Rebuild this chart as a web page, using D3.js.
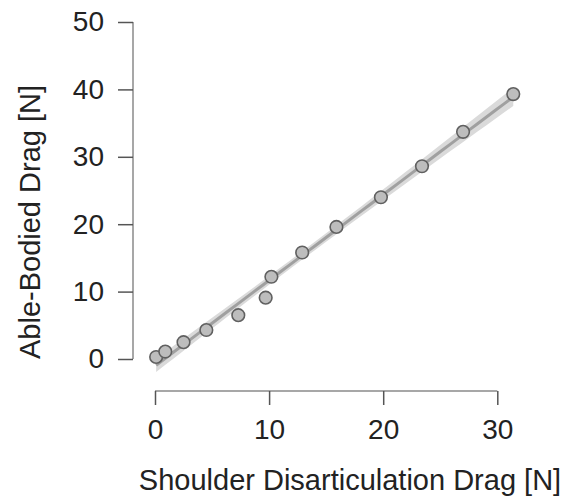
<!DOCTYPE html>
<html>
<head>
<meta charset="utf-8">
<script src="https://cdn.jsdelivr.net/npm/d3@7"></script>
<style>
  body { margin: 0; background: #fff; }
  text { font-family: "Liberation Sans", Arial, sans-serif; }
</style>
</head>
<body>
<svg id="chart" width="570" height="500"></svg>
<script>
// data
var sdDrag = [0.1, 0.9, 2.5, 4.5, 7.3, 9.7, 10.2, 12.9, 15.9, 19.8, 23.4, 27.0, 31.4];
var abDrag = [0.3, 1.1, 2.5, 4.3, 6.5, 9.1, 12.2, 15.8, 19.6, 24.0, 28.6, 33.7, 39.3];
var xTicks = [0, 10, 20, 30];
var yTicks = [0, 10, 20, 30, 40, 50];

var points = sdDrag.map(function (d, i) { return {x: d, y: abDrag[i]}; });

var svg = d3.select("#chart");

var x = d3.scaleLinear().domain([0, 30]).range([155, 497.3]);
var y = d3.scaleLinear().domain([0, 50]).range([359, 22]);

// least squares fit + confidence band
var n = points.length;
var mx = d3.mean(sdDrag), my = d3.mean(abDrag);
var sxx = d3.sum(sdDrag, function (d) { return (d - mx) * (d - mx); });
var sxy = d3.sum(points, function (d) { return (d.x - mx) * (d.y - my); });
var slope = sxy / sxx, icpt = my - slope * mx;
var sse = d3.sum(points, function (d) { var r = d.y - (icpt + slope * d.x); return r * r; });
var se = Math.sqrt(sse / (n - 2));
var tval = 2.201;

var xs = d3.range(0, 41).map(function (i) {
    var lo = d3.min(sdDrag), hi = d3.max(sdDrag);
    return lo + (hi - lo) * i / 40;
});
var band = xs.map(function (v) {
    var fit = icpt + slope * v;
    var w = tval * se * Math.sqrt(1 / n + (v - mx) * (v - mx) / sxx);
    return {x: v, lo: fit - w, hi: fit + w, fit: fit};
});

svg.append("path")
    .datum(band)
    .attr("fill", "#dadada")
    .attr("d", d3.area()
        .x(function (d) { return x(d.x); })
        .y0(function (d) { return y(d.lo); })
        .y1(function (d) { return y(d.hi); }));

svg.append("path")
    .datum(band)
    .attr("fill", "none")
    .attr("stroke", "#a0a0a0")
    .attr("stroke-width", 3)
    .attr("d", d3.line()
        .x(function (d) { return x(d.x); })
        .y(function (d) { return y(d.fit); }));

svg.selectAll(".pt")
    .data(points)
    .enter().append("circle")
    .attr("class", "pt")
    .attr("cx", function (d) { return x(d.x); })
    .attr("cy", function (d) { return y(d.y); })
    .attr("r", 6.3)
    .attr("fill", "#bdbdbd")
    .attr("stroke", "#606060")
    .attr("stroke-width", 1.6);

// axes
var xAxis = svg.append("g")
    .attr("transform", "translate(0,391)")
    .call(d3.axisBottom(x).tickValues(xTicks).tickSize(14).tickPadding(14));

var yAxis = svg.append("g")
    .attr("transform", "translate(133,0)")
    .call(d3.axisLeft(y).tickValues(yTicks).tickSize(15).tickPadding(14));

[xAxis, yAxis].forEach(function (g) {
    g.select(".domain").attr("stroke", "#8a8a8a").attr("stroke-width", 1.5);
    g.selectAll(".tick line").attr("stroke", "#555").attr("stroke-width", 1.5);
    g.selectAll(".tick text").attr("fill", "#222").style("font-size", "28px");
});
// flat domain ends, no outer ticks
xAxis.select(".domain").attr("d", "M" + x(0) + ",0H" + x(30));
yAxis.select(".domain").attr("d", "M0," + y(0) + "V" + y(50));

svg.append("text")
    .attr("x", 350)
    .attr("y", 490)
    .attr("text-anchor", "middle")
    .attr("fill", "#222")
    .style("font-size", "29px")
    .text("Shoulder Disarticulation Drag [N]");

svg.append("text")
    .attr("transform", "translate(40,222) rotate(-90)")
    .attr("text-anchor", "middle")
    .attr("fill", "#222")
    .style("font-size", "29px")
    .text("Able-Bodied Drag [N]");
</script>
</body>
</html>
